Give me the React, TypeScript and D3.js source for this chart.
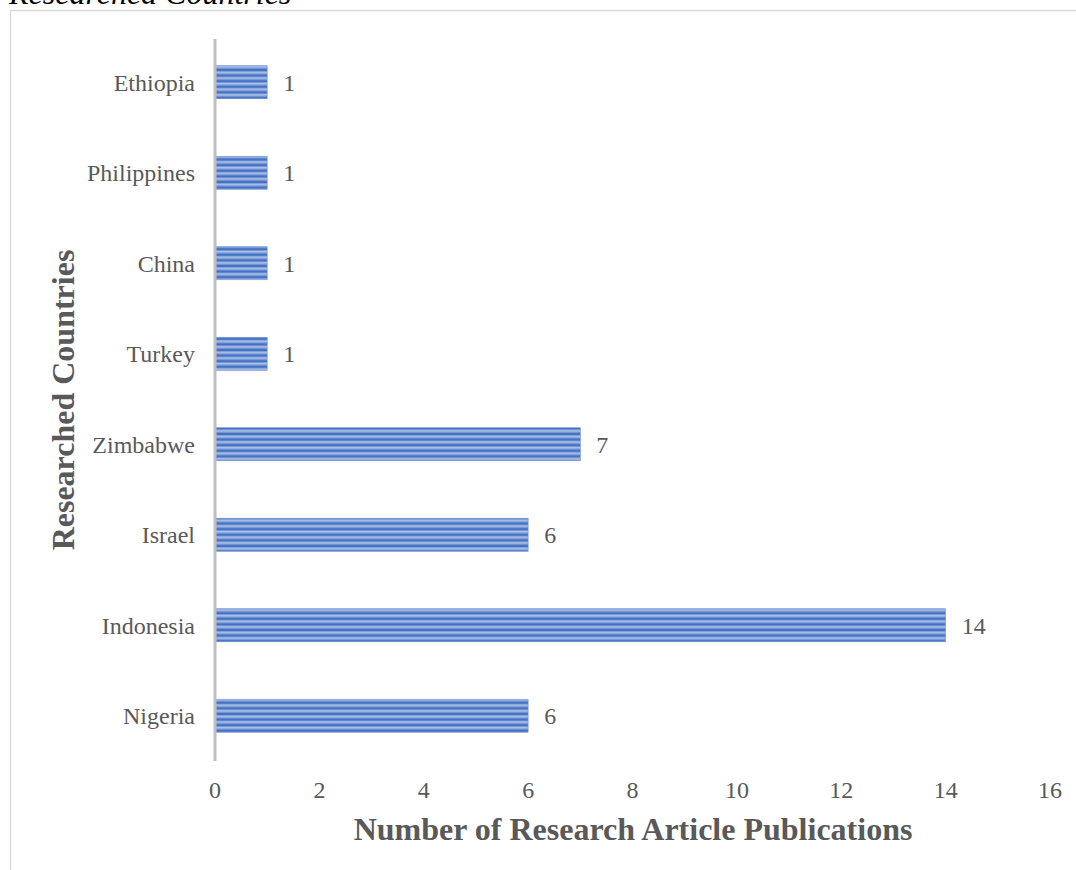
import * as d3 from "d3";
import React from "react";

const countries = ["Ethiopia", "Philippines", "China", "Turkey", "Zimbabwe", "Israel", "Indonesia", "Nigeria"];
const publications = [1, 1, 1, 1, 7, 6, 14, 6];
const xTicks = [0, 2, 4, 6, 8, 10, 12, 14, 16];

const W = 1076;
const H = 870;
const m = { l: 215, r: 26, t: 37, b: 109 };
const font = "'Liberation Serif', 'Times New Roman', serif";
const grey = "#595959";

const App: React.FC = () => {
  const x = d3.scaleLinear([0, 16], [m.l, W - m.r]);
  const y = d3.scaleBand(countries, [m.t, H - m.b]).paddingInner(0.635).paddingOuter(0.3175);

  return (
    <svg width={W} height={H} style={{ position: "absolute", left: 0, top: 0, display: "block" }}>
      <defs>
        <pattern id="stripes" width={8} height={5.6} patternUnits="userSpaceOnUse">
          <rect width={8} height={5.6} fill="#b3c6ea" />
          <rect y={0.4} width={8} height={1} fill="#7d9bd7" />
          <rect y={1.4} width={8} height={2.4} fill="#4472c4" />
          <rect y={3.8} width={8} height={1} fill="#7d9bd7" />
        </pattern>
      </defs>
      <rect width={W} height={H} fill="#fff" />
      <text x={9} y={4} fontFamily={font} fontStyle="italic" fontSize={32} fill="#000">Researched Countries</text>
      <path d={`M10.5,${H} V10.5 H${W}`} fill="none" stroke="#d9d9d9" strokeWidth={1.3} />

      {countries.map((c, i) => (
        <g key={c}>
          <rect
            x={x(0)}
            y={y(c)}
            width={x(publications[i]) - x(0)}
            height={y.bandwidth()}
            fill="url(#stripes)"
            stroke="#6f8fcf"
            strokeWidth={0.6}
          />
          <text x={195} y={(y(c) || 0) + y.bandwidth() / 2} dy="0.35em" textAnchor="end"
            fontFamily={font} fontSize={24} fill={grey}>{c}</text>
          <text x={x(publications[i]) + 16} y={(y(c) || 0) + y.bandwidth() / 2} dy="0.35em"
            fontFamily={font} fontSize={24} fill={grey}>{publications[i]}</text>
        </g>
      ))}

      <line x1={x(0)} x2={x(0)} y1={m.t + 2} y2={H - m.b} stroke="#bfbfbf" strokeWidth={3} />

      {xTicks.map(t => (
        <text key={t} x={x(t)} y={798} textAnchor="middle" fontFamily={font} fontSize={24} fill={grey}>{t}</text>
      ))}

      <text x={633} y={840} textAnchor="middle" fontFamily={font} fontWeight="bold" fontSize={32} fill={grey}>
        Number of Research Article Publications
      </text>
      <text transform="translate(74,400) rotate(-90)" textAnchor="middle" fontFamily={font} fontWeight="bold" fontSize={32} fill={grey}>
        Researched Countries
      </text>
    </svg>
  );
};

export default App;
